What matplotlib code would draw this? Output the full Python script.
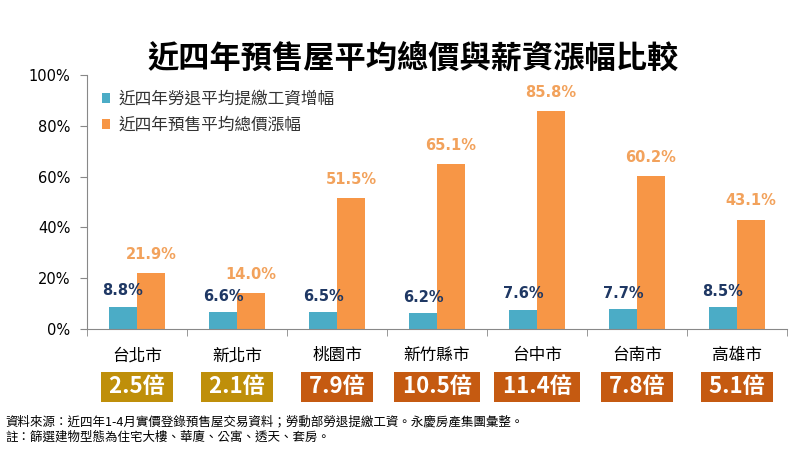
import matplotlib
matplotlib.use("Agg")
import matplotlib.pyplot as plt
import numpy as np

plt.rcParams['font.family'] = ['Noto Sans CJK TC', 'DejaVu Sans']

categories = ["台北市", "新北市", "桃園市", "新竹縣市", "台中市", "台南市", "高雄市"]
wage_growth = [8.8, 6.6, 6.5, 6.2, 7.6, 7.7, 8.5]
price_growth = [21.9, 14.0, 51.5, 65.1, 85.8, 60.2, 43.1]
ratio_labels = ["2.5倍", "2.1倍", "7.9倍", "10.5倍", "11.4倍", "7.8倍", "5.1倍"]
ratio_colors = ["#BF8F0A", "#BF8F0A", "#C55A11", "#C55A11", "#C55A11", "#C55A11", "#C55A11"]
series_names = ["近四年勞退平均提繳工資增幅", "近四年預售平均總價漲幅"]
yticks = [0, 20, 40, 60, 80, 100]

blue = "#4BACC6"
orange = "#F79646"

fig = plt.figure(figsize=(8, 4.5), dpi=100)
ax = fig.add_axes([87/800, 1-329/450, 700/800, 254/450])

x = np.arange(len(categories))
w = 0.28
ax.bar(x - w/2, wage_growth, w, color=blue, label=series_names[0])
ax.bar(x + w/2, price_growth, w, color=orange, label=series_names[1])

for xi, v in zip(x, wage_growth):
    ax.annotate(f"{v:.1f}%", (xi - w/2, v), xytext=(0, 6), textcoords="offset points",
                ha="center", va="bottom", fontsize=10.5, fontweight="bold",
                color="#1F3864", family="DejaVu Sans")
for xi, v in zip(x, price_growth):
    ax.annotate(f"{v:.1f}%", (xi + w/2, v), xytext=(0, 8), textcoords="offset points",
                ha="center", va="bottom", fontsize=10.5, fontweight="bold",
                color="#F2A25C", family="DejaVu Sans")

ax.set_xlim(-0.5, len(categories) - 0.5)
ax.set_ylim(0, 100)
ax.set_yticks(yticks)
ax.set_yticklabels([f"{t}%" for t in yticks], family="DejaVu Sans", fontsize=10.5)
ax.set_xticks(x)
ax.set_xticklabels(categories, fontsize=12)
ax.tick_params(axis="x", length=0, pad=13)
ax.set_xticks(np.arange(-0.5, len(categories)), minor=True)
ax.tick_params(axis="x", which="minor", length=5, color="#888888")
ax.tick_params(axis="y", length=5, color="#888888", pad=7)
for s in ["top", "right"]:
    ax.spines[s].set_visible(False)
for s in ["left", "bottom"]:
    ax.spines[s].set_color("#888888")

ax.legend(loc="upper left", bbox_to_anchor=(0.0, 0.997), frameon=False,
          fontsize=12, handlelength=0.5, handleheight=0.5, handletextpad=0.5,
          labelspacing=0.55, labelcolor="#333333")

for xi, lab, c in zip(x, ratio_labels, ratio_colors):
    ax.text(xi, -22.8, " " + lab + " ", transform=ax.transData, ha="center", va="center",
            fontsize=16, fontweight="bold", color="white", clip_on=False,
            bbox=dict(boxstyle="square,pad=0.16", fc=c, ec="none"))

fig.text(413/800, 1-59/450, "近四年預售屋平均總價與薪資漲幅比較", ha="center", va="center",
         fontsize=22.5, fontweight="bold", color="black")
fig.text(5/800, 1-422/450, "資料來源：近四年1-4月實價登錄預售屋交易資料；勞動部勞退提繳工資。永慶房產集團彙整。",
         ha="left", va="center", fontsize=9)
fig.text(5/800, 1-437/450, "註：篩選建物型態為住宅大樓、華廈、公寓、透天、套房。",
         ha="left", va="center", fontsize=9)

fig.savefig("out.png", dpi=100)
